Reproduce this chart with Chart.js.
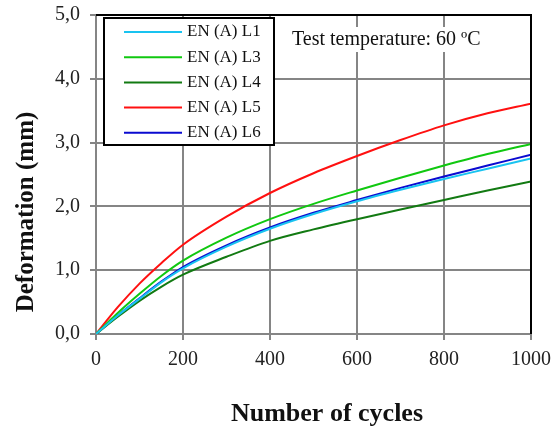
<!DOCTYPE html>
<html>
<head>
<meta charset="utf-8">
<script src="https://cdn.jsdelivr.net/npm/chart.js@4"></script>
<style>
  html, body { margin: 0; padding: 0; background: #fff; }
  #wrap { width: 557px; height: 427px; position: relative; }
</style>
</head>
<body>
<div id="wrap"><canvas id="chart"></canvas></div>
<script>
const cycles = [0, 50, 100, 150, 200, 300, 400, 500, 600, 700, 800, 900, 1000];

const seriesNames = ['EN (A) L1', 'EN (A) L3', 'EN (A) L4', 'EN (A) L5', 'EN (A) L6'];
const seriesColors = ['#19c3f0', '#10c810', '#127a12', '#ff1010', '#0a0ad0'];

const l1 = [0, 0.29, 0.55, 0.81, 1.03, 1.37, 1.65, 1.88, 2.08, 2.26, 2.43, 2.59, 2.75];
const l3 = [0, 0.33, 0.63, 0.91, 1.15, 1.51, 1.80, 2.04, 2.25, 2.45, 2.64, 2.82, 2.98];
const l4 = [0, 0.27, 0.52, 0.74, 0.93, 1.21, 1.46, 1.64, 1.80, 1.95, 2.10, 2.25, 2.39];
const l5 = [0, 0.42, 0.79, 1.11, 1.40, 1.84, 2.21, 2.52, 2.79, 3.04, 3.27, 3.46, 3.61];
const l6 = [0, 0.29, 0.56, 0.82, 1.05, 1.39, 1.67, 1.90, 2.10, 2.29, 2.47, 2.64, 2.81];

const seriesValues = [l1, l3, l4, l5, l6];

const xTicks = [0, 200, 400, 600, 800, 1000];
const yTicks = [0, 1, 2, 3, 4, 5];

const xTitle = 'Number of cycles';
const yTitle = 'Deformation (mm)';
const note = 'Test temperature: 60 ºC';

const serif = '"Liberation Serif", "DejaVu Serif", serif';

const datasets = seriesNames.map((name, i) => ({
    label: name,
    data: cycles.map((c, j) => ({ x: c, y: seriesValues[i][j] })),
    borderColor: seriesColors[i],
    backgroundColor: seriesColors[i],
    borderWidth: 2,
    pointRadius: 0,
    cubicInterpolationMode: 'monotone',
    fill: false
}));

// frame, titles, note and the boxed legend
const extras = {
    id: 'extras',
    afterDraw(chart) {
        const { ctx, chartArea: a } = chart;
        ctx.save();

        // black top/right frame
        ctx.strokeStyle = '#000';
        ctx.lineWidth = 2;
        ctx.beginPath();
        ctx.moveTo(a.left, a.top);
        ctx.lineTo(a.right, a.top);
        ctx.lineTo(a.right, a.bottom);
        ctx.stroke();

        // axis titles
        ctx.fillStyle = '#111';
        ctx.font = 'bold 26px ' + serif;
        ctx.textAlign = 'center';
        ctx.textBaseline = 'middle';
        ctx.fillText(xTitle, 327, 414);

        ctx.save();
        ctx.translate(27, 212);
        ctx.rotate(-Math.PI / 2);
        ctx.font = 'bold 25px ' + serif;
        ctx.fillText(yTitle, 0, 0);
        ctx.restore();

        // note
        ctx.font = '20px ' + serif;
        ctx.textAlign = 'left';
        const w = ctx.measureText(note).width;
        ctx.fillStyle = '#fff';
        ctx.fillRect(288, 27, w + 8, 25);
        ctx.fillStyle = '#111';
        ctx.fillText(note, 292, 40);

        // legend
        const lx = 104, ly = 18, lw = 170, lh = 127;
        ctx.fillStyle = '#fff';
        ctx.fillRect(lx, ly, lw, lh);
        ctx.strokeStyle = '#000';
        ctx.lineWidth = 2;
        ctx.strokeRect(lx, ly, lw, lh);
        ctx.font = '17px ' + serif;
        chart.data.datasets.forEach((ds, i) => {
            const y = ly + 14 + i * 25.2;
            ctx.strokeStyle = ds.borderColor;
            ctx.lineWidth = 2;
            ctx.beginPath();
            ctx.moveTo(lx + 20, y);
            ctx.lineTo(lx + 78, y);
            ctx.stroke();
            ctx.fillStyle = '#111';
            ctx.fillText(ds.label, lx + 83, y);
        });

        ctx.restore();
    }
};

new Chart(document.getElementById('chart'), {
    type: 'line',
    data: { datasets },
    options: {
        responsive: true,
        maintainAspectRatio: false,
        animation: false,
        layout: { padding: { top: 15, right: 26, left: 0, bottom: 0 } },
        plugins: {
            legend: { display: false },
            tooltip: { enabled: false }
        },
        scales: {
            x: {
                type: 'linear',
                min: 0,
                max: 1000,
                afterBuildTicks: s => { s.ticks = xTicks.map(v => ({ value: v })); },
                afterFit: s => { s.height = 93; s.paddingLeft = 0; s.paddingRight = 0; },
                grid: { color: '#858585', lineWidth: 2, tickLength: 6, drawTicks: true },
                border: { color: '#858585', width: 2 },
                ticks: {
                    color: '#222',
                    padding: 8,
                    maxRotation: 0,
                    font: { family: serif, size: 20 },
                    callback: v => String(v)
                }
            },
            y: {
                type: 'linear',
                min: 0,
                max: 5,
                afterBuildTicks: s => { s.ticks = yTicks.map(v => ({ value: v })); },
                afterFit: s => { s.width = 96; s.paddingTop = 0; s.paddingBottom = 0; },
                grid: { color: '#858585', lineWidth: 2, tickLength: 6, drawTicks: true },
                border: { color: '#858585', width: 2 },
                ticks: {
                    color: '#222',
                    padding: 10,
                    font: { family: serif, size: 20 },
                    callback: v => v.toFixed(1).replace('.', ',')
                }
            }
        }
    },
    plugins: [extras]
});
</script>
</body>
</html>
